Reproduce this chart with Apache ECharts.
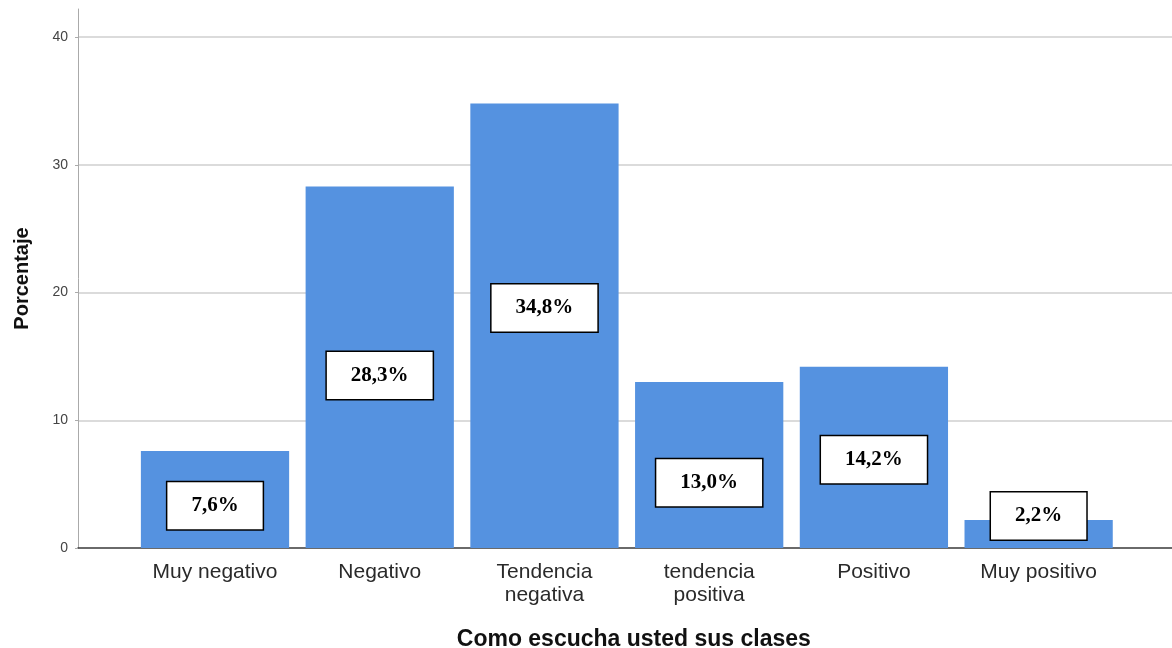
<!DOCTYPE html>
<html>
<head>
<meta charset="utf-8">
<script src="https://cdn.jsdelivr.net/npm/echarts@6/dist/echarts.min.js"></script>
<style>
html,body{margin:0;padding:0;background:#fff;}
#chart{width:1172px;height:648px;}
</style>
</head>
<body>
<div id="chart"></div>
<script>
// Categories (x axis)
const categories = ['Muy negativo', 'Negativo', 'Tendencia\nnegativa', 'tendencia\npositiva', 'Positivo', 'Muy positivo'];
// Percentages per category
const percentages = [7.6, 28.3, 34.8, 13.0, 14.2, 2.2];
// Value (in %) at which each annotation box is centred, as placed in the original
const labelAt = [3.3, 13.5, 18.8, 5.1, 6.9, 2.5];
// Y axis ticks
const yTicks = [0, 10, 20, 30, 40];

const fmt = v => v.toFixed(1).replace('.', ',') + '%';
const yMax = 42.2;
const sans = '"Liberation Sans", Arial, sans-serif';

const chart = echarts.init(document.getElementById('chart'));
chart.setOption({
  animation: false,
  backgroundColor: '#fff',
  grid: [
    { left: 78, right: 0, top: 9, bottom: 100, outerBoundsMode: 'none', containLabel: false },
    { left: 132.65, right: 51, top: 9, bottom: 100, outerBoundsMode: 'none', containLabel: false }
  ],
  xAxis: [
    {
      gridIndex: 0, type: 'value', min: 0, max: 1,
      axisLine: { show: true, lineStyle: { color: '#3a3a3a', width: 1.5 } },
      axisTick: { show: false }, axisLabel: { show: false }, splitLine: { show: false }
    },
    {
      gridIndex: 1, type: 'category', data: categories,
      axisLine: { show: false }, axisTick: { show: false }, splitLine: { show: false },
      axisLabel: { fontFamily: sans, fontSize: 21, color: '#2a2a2a', lineHeight: 23, margin: 13, interval: 0 },
      name: 'Como escucha usted sus clases', nameLocation: 'middle', nameGap: 80,
      nameTextStyle: { fontFamily: sans, fontSize: 23, fontWeight: 'bold', color: '#111', padding: [0, 0, 0, 14] }
    }
  ],
  yAxis: [
    {
      gridIndex: 0, type: 'value', min: yTicks[0], max: yMax, interval: yTicks[1] - yTicks[0],
      axisLine: { show: true, lineStyle: { color: '#aaa', width: 1 } },
      axisTick: { show: true, length: 3, lineStyle: { color: '#aaa' } },
      axisLabel: { fontFamily: sans, fontSize: 14, color: '#444', margin: 10, showMaxLabel: false,
        formatter: v => (yTicks.indexOf(v) >= 0 ? String(v) : '') },
      splitLine: { show: true, showMinLine: false, showMaxLine: false, lineStyle: { color: '#cfcfcf', width: 1.5 } },
      name: 'Porcentaje', nameLocation: 'middle', nameGap: 46,
      nameTextStyle: { fontFamily: sans, fontSize: 20, fontWeight: 'bold', color: '#111' }
    },
    {
      gridIndex: 1, type: 'value', min: 0, max: yMax,
      show: false, splitLine: { show: false }
    }
  ],
  series: [
    {
      type: 'bar', xAxisIndex: 1, yAxisIndex: 1,
      data: percentages,
      barCategoryGap: '10%',
      itemStyle: { color: '#5592E0' },
      z: 2
    },
    {
      type: 'scatter', xAxisIndex: 1, yAxisIndex: 1,
      data: labelAt.map((y, i) => [i, y]),
      symbolSize: 0,
      itemStyle: { opacity: 1 },
      emphasis: { disabled: true },
      z: 5,
      label: {
        show: true, position: 'inside', opacity: 1,
        formatter: p => fmt(percentages[p.dataIndex]),
        fontFamily: '"Liberation Serif", "Times New Roman", serif',
        fontSize: 21, fontWeight: 'bold', color: '#000',
        lineHeight: 21,
        backgroundColor: '#fff', borderColor: '#000', borderWidth: 1.5,
        padding: [13, 24, 13, 24]
      }
    }
  ]
});
</script>
</body>
</html>
